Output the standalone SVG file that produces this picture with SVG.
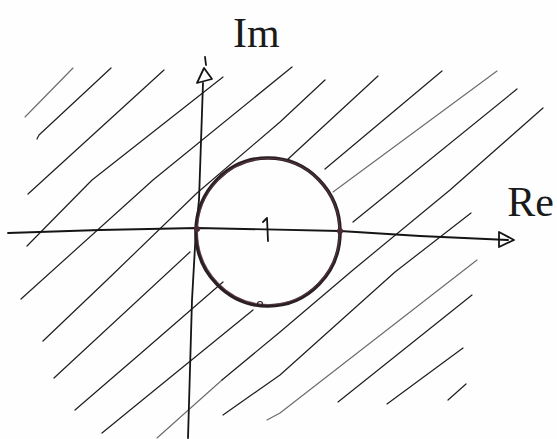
<svg xmlns="http://www.w3.org/2000/svg" width="557" height="439" viewBox="0 0 557 439">
<style>
.h{fill:none;stroke:#1e1e1e;stroke-width:1.2;stroke-linecap:round;stroke-linejoin:round}
.hf{fill:none;stroke:#6a6a6a;stroke-width:1.1;stroke-linecap:round;stroke-linejoin:round}
.ax{fill:none;stroke:#151515;stroke-width:1.8;stroke-linecap:round;stroke-linejoin:round}
.lbl{font-family:"Liberation Serif","DejaVu Serif",serif;font-size:42px;fill:#1a1a1a}
</style>
<rect x="0" y="0" width="557" height="439" fill="#fefefe"/>
<g id="hatching">
<polyline class="hf" points="25,117 73,68"/>
<polyline class="h" points="37,139 39,135 111,68"/>
<polyline class="h" points="28,194 164,70"/>
<polyline class="h" points="27,246 92,180 223,77"/>
<polyline class="h" points="21,299 153,180 292,67"/>
<polyline class="h" points="43,341 107,280 197,193 280,122 325,80"/>
<polyline class="h" points="54,378 190,252"/>
<polyline class="h" points="75,410 140,354 223,282"/>
<polyline class="h" points="102,433 140,402 253,310"/>
<polyline class="hf" points="157,438 222,380"/>
<polyline class="h" points="222,380 280,332 353,270 450,190 543,108"/>
<polyline class="h" points="223,415 280,375 395,272 471,213"/>
<polyline class="hf" points="267,420 280,413 477,260"/>
<polyline class="h" points="338,402 472,295"/>
<polyline class="h" points="387,404 463,348"/>
<polyline class="h" points="448,400 466,384"/>
<polyline class="h" points="287,160 378,76"/>
<polyline class="h" points="325,169 442,71"/>
<polyline class="hf" points="333,192 497,71"/>
<polyline class="h" points="353,222 517,89"/>
</g>
<g id="connectors">
<polyline class="ax" points="8,233 100,230 197,228 340,231 420,236 508,240"/>
<path class="ax" d="M499,232 L514,240 L499,247 Z"/>
<polyline class="ax" points="188,438 192,300 196,229 199,200 203,83"/>
<path class="ax" d="M204,68 L197,83 L212,79 Z"/>
<path class="ax" d="M205,57 L206,65" stroke-width="1.2"/>
</g>
<g id="circle">
<ellipse cx="268" cy="232" rx="72" ry="74" fill="none" stroke="#2a1f23" stroke-width="3.6"/>
<ellipse cx="268.5" cy="231.5" rx="71" ry="73" fill="none" stroke="#6e4150" stroke-width="1.2" opacity="0.6"/>
<circle cx="197" cy="229" r="3" fill="#4a2a34"/>
<circle cx="340" cy="231" r="3" fill="#4a2a34"/>
<circle cx="260" cy="304" r="2.5" fill="none" stroke="#2a1f23" stroke-width="1.2"/>
</g>
<g id="tick">
<path class="ax" d="M263,222 L267,218 L268,241"/>
</g>
<g id="labels">
<text class="lbl" x="233" y="47">Im</text>
<text class="lbl" x="554" y="216" text-anchor="end">Re</text>
</g>
</svg>
